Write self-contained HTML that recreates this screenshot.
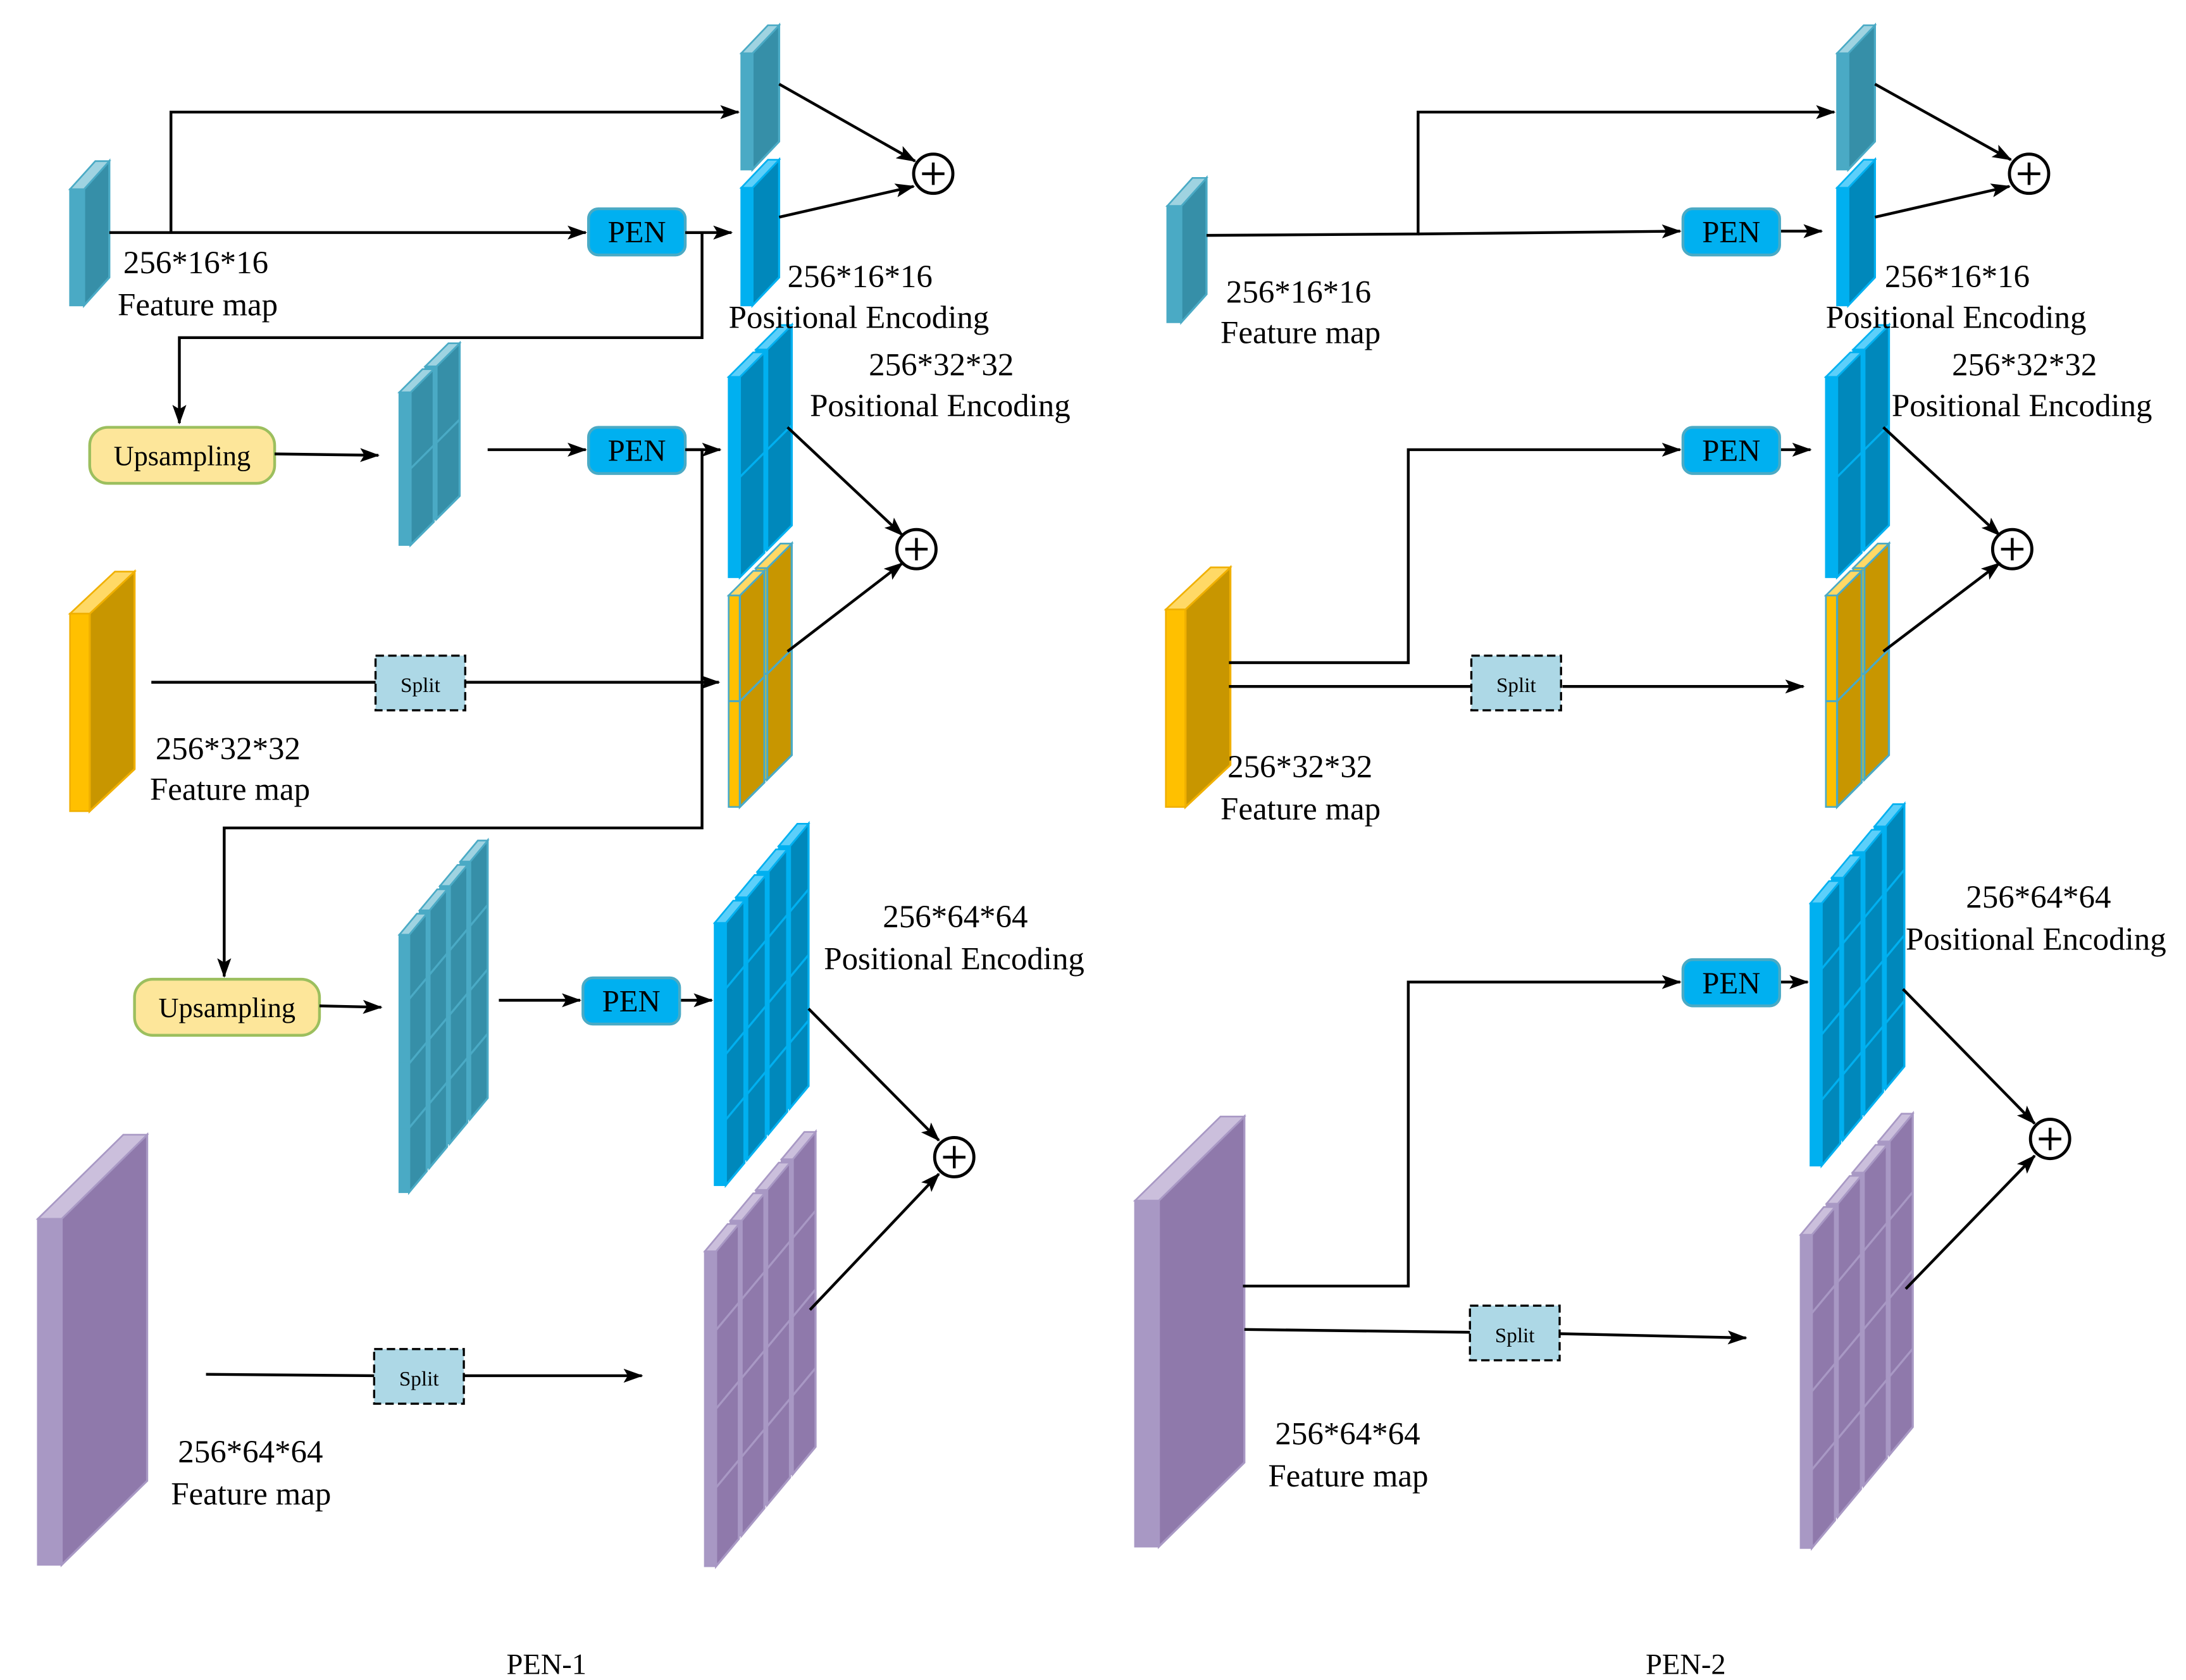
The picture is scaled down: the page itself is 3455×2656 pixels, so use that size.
<!DOCTYPE html>
<html><head><meta charset="utf-8"><style>
html,body{margin:0;padding:0;background:#fff;}
svg{display:block;}
text{font-family:"Liberation Serif",serif;fill:#000;}
</style></head><body>
<svg id="s" width="3455" height="2656" viewBox="0 0 1560 1199.2" xmlns="http://www.w3.org/2000/svg">
<defs>
<marker id="b" markerWidth="14" markerHeight="10" refX="13" refY="5" orient="auto" markerUnits="userSpaceOnUse"><path d="M0,0 L14,5 L0,10 L3,5 z" fill="#000"/></marker></defs>
<g id="g"></g>
</svg>
<script>
var P={teal:{f:"#4aaac5",s:"#368fa8",t:"#9fd3e1",k:"#4aaac5"},
blue:{f:"#00b0f0",s:"#0088bb",t:"#5ccffa",k:"#00b0f0"},
yel:{f:"#ffc000",s:"#c89600",t:"#ffd966",k:"#4aaac5"},
yel1:{f:"#ffc000",s:"#c89600",t:"#ffd966",k:"#f0b000"},
pur:{f:"#a898c4",s:"#8f79ab",t:"#cbbfdc",k:"#a898c4"}};
var o="";
function stack(x,y,h,n,fw,sx,sy,ox,oy,rows,c){
 c=P[c];
 for(var i=n-1;i>=0;i--){
  var X=x+i*ox,Y=y-i*oy;
  o+='<rect x="'+X+'" y="'+Y+'" width="'+fw+'" height="'+h+'" fill="'+c.f+'" stroke="'+c.k+'" stroke-width="1.2"/>';
  o+='<polygon points="'+(X+fw)+','+Y+' '+(X+fw+sx)+','+(Y-sy)+' '+(X+fw+sx)+','+(Y-sy+h)+' '+(X+fw)+','+(Y+h)+'" fill="'+c.s+'" stroke="'+c.k+'" stroke-width="1.5"/>';
  o+='<polygon points="'+X+','+Y+' '+(X+sx)+','+(Y-sy)+' '+(X+fw+sx)+','+(Y-sy)+' '+(X+fw)+','+Y+'" fill="'+c.t+'" stroke="'+c.k+'" stroke-width="1.2"/>';
  for(var r=1;r<rows;r++){var yy=Y+h*r/rows;
   o+='<line x1="'+X+'" y1="'+yy+'" x2="'+(X+fw)+'" y2="'+yy+'" stroke="'+c.k+'" stroke-width="1.5"/>';
   o+='<line x1="'+(X+fw)+'" y1="'+yy+'" x2="'+(X+fw+sx)+'" y2="'+(yy-sy)+'" stroke="'+c.k+'" stroke-width="1.5"/>';}
 }
}
function stack2(x,top,right,bottom,n,fw,slope,rows,c){
 var W=right-x,H=bottom-top;
 var sx=(W-fw-2*(n-1))/n, ox=sx+2, sy=slope*sx, oy=slope*ox;
 var h=H-(n-1)*oy-sy, y=bottom-h;
 stack(x,y,h,n,fw,sx,sy,ox,oy,rows,c);
}
function L(pts,arr){o+='<polyline points="'+pts+'" fill="none" stroke="#000" stroke-width="2"'+(arr?' marker-end="url(#'+arr+')"':'')+'/>';}
function T(x,y,s,fs,anc){o+='<text x="'+x+'" y="'+y+'" font-size="'+(fs||23)+'"'+(anc?' text-anchor="'+anc+'"':'')+'>'+s+'</text>';}
function pen(x,y){o+='<rect x="'+x+'" y="'+y+'" width="69" height="33" rx="7" fill="#00b0f0" stroke="#4aaac5" stroke-width="2"/>';T(x+34.5,y+24,"PEN",22,"middle");}
function up(x,y){o+='<rect x="'+x+'" y="'+y+'" width="132" height="40" rx="13" fill="#fde69a" stroke="#9cbf5e" stroke-width="2"/>';T(x+66,y+27,"Upsampling",20,"middle");}
function split(x,y){o+='<rect x="'+x+'" y="'+y+'" width="64" height="39" fill="#add8e6" stroke="#000" stroke-width="1.5" stroke-dasharray="6,3"/>';T(x+32,y+26,"Split",15,"middle");}
function plus(x,y){o+='<circle cx="'+x+'" cy="'+y+'" r="14" fill="#fff" stroke="#000" stroke-width="2.2"/><line x1="'+(x-8)+'" y1="'+y+'" x2="'+(x+8)+'" y2="'+y+'" stroke="#000" stroke-width="2"/><line x1="'+x+'" y1="'+(y-8)+'" x2="'+x+'" y2="'+(y+8)+'" stroke="#000" stroke-width="2"/>';}

/* ===== PEN-1 ===== */
stack(50,135,83,1,10,18,20,0,0,1,"teal");
stack(529,38,83,1,8,19,20,0,0,1,"teal");
stack(529,134,84,1,8,19,20,0,0,1,"blue");
stack2(285,245,328,389,2,8,1.0,2,"teal");
stack2(520,232,565,412,2,8,1.0,2,"blue");
stack2(520,388,565,576,2,8,1.0,2,"yel");
stack(50,438,141,1,14,32,30,0,0,1,"yel1");
stack2(285,600,348,851,4,7,1.2,4,"teal");
stack2(510,588,577,846,4,8,1.2,4,"blue");
stack2(503,808,582,1118,4,8,1.2,4,"pur");
stack(27,870,247,1,17,61,60,0,0,1,"pur");

L("78,166 418,166","b");
L("122,166 122,80 527,80","b");
pen(420,149);
L("489,166 522,166","b");
L("490,166 501,166 501,241 128,241 128,302","b");
plus(666,124);
L("556,60 653,115","b");
L("556,155 652,133","b");
T(88,195,"256*16*16");T(84,225,"Feature map");
T(562,205,"256*16*16");T(520,234,"Positional Encoding");
up(64,305);
L("196,324 270,325","b");
L("348,321 418,321","b");
pen(420,305);
L("489,321 514,321","b");
L("490,321 501,321 501,591 160,591 160,697","b");
split(268,468);
L("108,487 268,487");L("332,487 513,487","b");
plus(654,392);
L("562,305 644,382","b");
L("562,465 644,402","b");
T(111,542,"256*32*32");T(107,571,"Feature map");
T(620,268,"256*32*32");T(578,297,"Positional Encoding");
up(96,699);
L("228,718 272,719","b");
L("356,714 414,714","b");
pen(416,698);
L("486,714 508,714","b");
T(630,662,"256*64*64");T(588,692,"Positional Encoding");
plus(681,826);
L("577,720 670,814","b");
L("578,935 670,838","b");
split(267,963);
L("147,981 267,982");L("331,982 458,982","b");
T(127,1044,"256*64*64");T(122,1074,"Feature map");
T(390,1195,"PEN-1",21,"middle");

/* ===== PEN-2 ===== */
stack(833,147,83,1,10,18,20,0,0,1,"teal");
stack(1311,38,83,1,8,19,20,0,0,1,"teal");
stack(1311,134,84,1,8,19,20,0,0,1,"blue");
stack2(1303,232,1348,412,2,8,1.0,2,"blue");
stack2(1303,388,1348,576,2,8,1.0,2,"yel");
stack(832,435,141,1,14,32,30,0,0,1,"yel1");
stack2(1292,574,1359,832,4,8,1.2,4,"blue");
stack2(1285,795,1365,1105,4,8,1.2,4,"pur");
stack(810,857,247,1,17,61,60,0,0,1,"pur");

L("861,168 1012,167 1012,80 1309,80","b");
L("1012,167 1199,165","b");
pen(1201,149);
L("1271,165 1300,165","b");
L("1338,60 1435,114","b");
L("1338,155 1434,133","b");
plus(1448,124);
T(875,216,"256*16*16");T(871,245,"Feature map");
T(1345,205,"256*16*16");T(1303,234,"Positional Encoding");
T(1393,268,"256*32*32");T(1350,297,"Positional Encoding");
L("877,473 1005,473 1005,321 1199,321","b");
pen(1201,305);
L("1271,321 1292,321","b");
split(1050,468);
L("877,490 1050,490");L("1115,490 1287,490","b");
plus(1436,392);
L("1344,305 1427,382","b");
L("1344,465 1427,402","b");
T(876,555,"256*32*32");T(871,585,"Feature map");
T(1403,648,"256*64*64");T(1360,678,"Positional Encoding");
L("887,918 1005,918 1005,701 1199,701","b");
pen(1201,685);
L("1271,701 1290,701","b");
split(1049,932);
L("888,949 1049,951");L("1113,952 1246,955","b");
plus(1463,813);
L("1358,706 1452,802","b");
L("1360,920 1452,825","b");
T(910,1031,"256*64*64");T(905,1061,"Feature map");
T(1203,1195,"PEN-2",21,"middle");
document.getElementById("g").innerHTML=o;
</script>
</body></html>
